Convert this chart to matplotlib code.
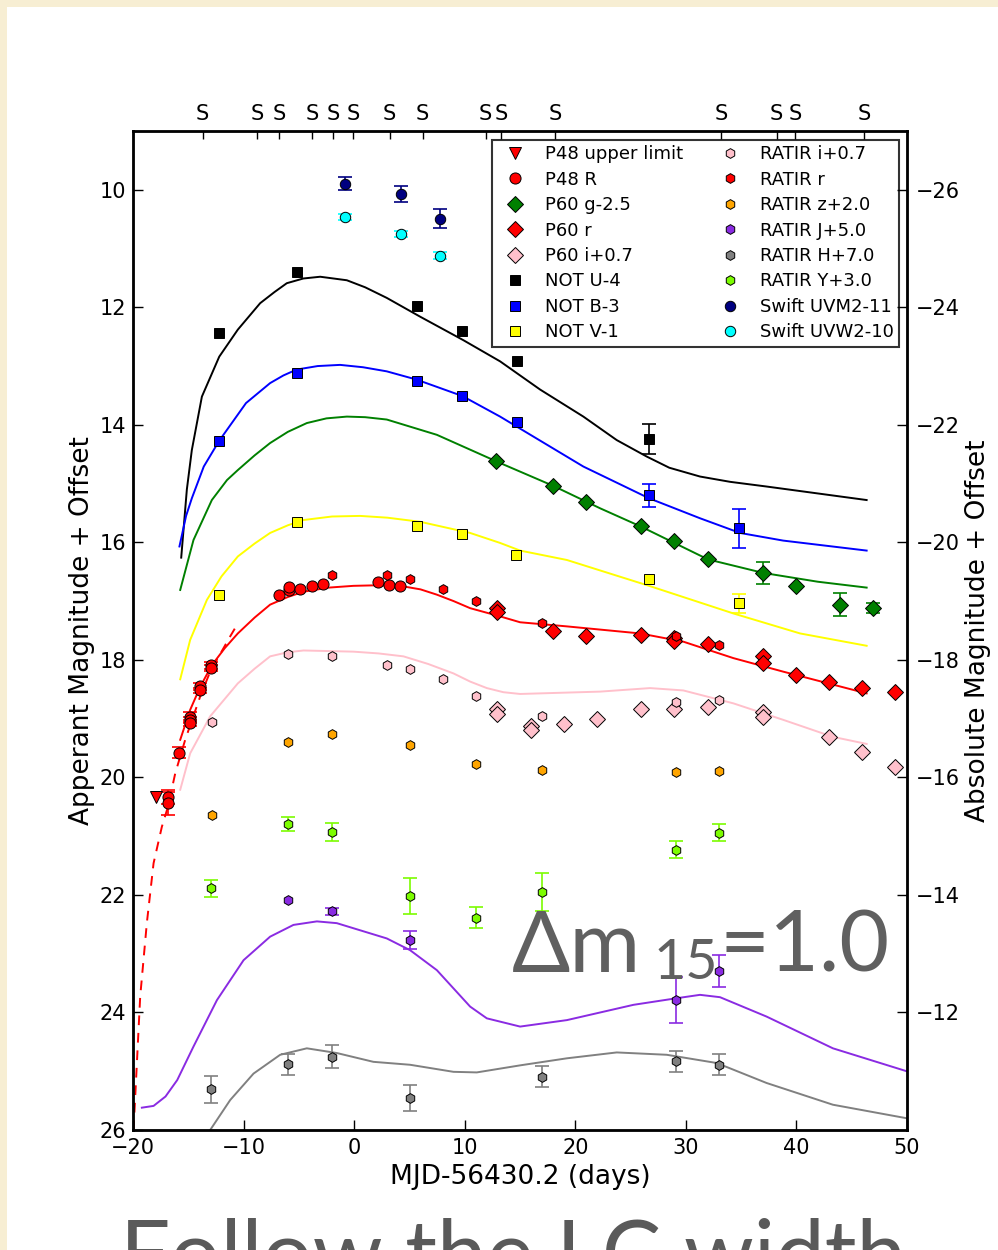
import matplotlib
matplotlib.use("Agg")
import matplotlib.pyplot as plt
from matplotlib.patches import Rectangle

# spectral epochs (top axis "S" marks)
spec_days = [-13.7, -8.8, -6.8, -3.8, -1.9, -0.1, 3.2, 6.2, 11.9, 13.3, 18.2, 33.2, 38.2, 39.9, 46.1]

# photometry (days, mag, err); err 0 = error bar hidden behind the marker
p48_lim_t = [-17.93]
p48_lim_m = [20.34]

p48_t = [-16.84, -16.84, -15.85, -14.83, -14.83, -14.83, -13.92, -13.92, -12.93, -12.93,
         -6.84, -5.88, -5.88, -4.88, -3.83, -2.83, 2.14, 3.19, 4.19]
p48_m = [20.34, 20.44, 19.58, 18.97, 19.02, 19.07, 18.45, 18.52, 18.09, 18.14,
         16.89, 16.81, 16.76, 16.80, 16.75, 16.71, 16.68, 16.72, 16.74]
p48_e = [0.12, 0.20, 0.09, 0.08, 0.05, 0.05, 0.06, 0.05, 0.06, 0.05,
         0, 0, 0, 0, 0, 0, 0, 0, 0]

p60g_t = [12.84, 18.02, 21.0, 25.92, 28.9, 32.0, 37.0, 39.94, 43.94, 46.95]
p60g_m = [14.62, 15.04, 15.31, 15.73, 15.98, 16.29, 16.52, 16.74, 17.06, 17.12]
p60g_e = [0, 0, 0, 0, 0, 0, 0.19, 0, 0.19, 0.09]

p60r_t = [12.9, 12.9, 18.02, 21.0, 25.92, 28.9, 28.9, 32.0, 37.0, 37.0, 39.94, 42.95, 45.93, 48.95]
p60r_m = [17.12, 17.18, 17.50, 17.59, 17.57, 17.62, 17.68, 17.73, 17.93, 18.06, 18.26, 18.37, 18.47, 18.55]

p60i_t = [12.9, 12.9, 15.97, 15.97, 18.99, 22.0, 25.92, 28.9, 32.0, 37.0, 37.0, 42.95, 45.93, 48.95]
p60i_m = [18.84, 18.92, 19.13, 19.20, 19.09, 19.01, 18.84, 18.84, 18.81, 18.88, 18.97, 19.32, 19.57, 19.83]

notU_t = [-12.2, -5.21, 5.64, 9.79, 14.71, 26.67]
notU_m = [12.43, 11.40, 11.97, 12.40, 12.92, 14.24]
notU_e = [0, 0, 0, 0, 0, 0.25]

notB_t = [-12.2, -5.21, 5.64, 9.79, 14.71, 26.67, 34.84]
notB_m = [14.27, 13.11, 13.25, 13.51, 13.96, 15.20, 15.76]
notB_e = [0, 0, 0, 0, 0, 0.19, 0.33]

notV_t = [-12.2, -5.21, 5.64, 9.79, 14.62, 26.67, 34.84]
notV_m = [16.89, 15.66, 15.73, 15.86, 16.22, 16.63, 17.04]
notV_e = [0, 0, 0, 0, 0, 0, 0.16]

ri_t = [-12.87, -5.94, -1.96, 2.98, 5.06, 8.07, 11.06, 17.03, 29.08, 33.0]
ri_m = [19.06, 17.90, 17.93, 18.09, 18.15, 18.33, 18.62, 18.96, 18.72, 18.68]

rr_t = [-1.96, 2.98, 5.06, 8.07, 11.06, 17.03, 29.08, 33.0]
rr_m = [16.55, 16.55, 16.63, 16.79, 17.00, 17.37, 17.59, 17.74]

rz_t = [-12.87, -5.94, -1.96, 5.06, 11.06, 17.03, 29.08, 33.0]
rz_m = [20.64, 19.39, 19.26, 19.45, 19.78, 19.87, 19.90, 19.89]

rJ_t = [-5.94, -1.96, 5.06, 29.08, 33.0]
rJ_m = [22.09, 22.28, 22.77, 23.79, 23.30]
rJ_e = [0, 0.06, 0.15, 0.39, 0.27]

rH_t = [-12.93, -5.94, -1.96, 5.06, 17.03, 29.08, 33.0]
rH_m = [25.31, 24.88, 24.75, 25.46, 25.09, 24.83, 24.89]
rH_e = [0.23, 0.18, 0.19, 0.22, 0.18, 0.18, 0.18]

rY_t = [-12.93, -5.94, -1.96, 5.06, 11.06, 17.03, 29.08, 33.0]
rY_m = [21.89, 20.80, 20.93, 22.02, 22.39, 21.95, 21.23, 20.94]
rY_e = [0.14, 0.12, 0.15, 0.30, 0.18, 0.32, 0.14, 0.15]

uvm2_t = [-0.81, 4.25, 7.72]
uvm2_m = [9.90, 10.07, 10.49]
uvm2_e = [0.11, 0.13, 0.16]

uvw2_t = [-0.81, 4.25, 7.72]
uvw2_m = [10.47, 10.76, 11.12]
uvw2_e = [0.05, 0.05, 0.06]

# template curves
U_t = [-15.64, -15.13, -14.68, -13.77, -12.2, -10.52, -8.5, -7.2, -6.09, -4.6, -3.07, -0.66,
       1.0, 2.95, 5.97, 9.88, 13.2, 16.82, 20.73, 23.75, 26.46, 28.5, 31.28, 34.0, 37.3, 46.35]
U_m = [16.26, 15.1, 14.43, 13.52, 12.84, 12.38, 11.93, 11.74, 11.59, 11.51, 11.48, 11.54,
       11.66, 11.84, 12.16, 12.56, 12.92, 13.40, 13.86, 14.26, 14.54, 14.73, 14.88, 14.97, 15.05, 15.28]

B_t = [-15.8, -15.2, -14.68, -13.6, -12.2, -9.78, -7.6, -6.4, -5.21, -3.3, -1.27, 0.8, 2.95, 5.64, 9.79,
       13.2, 16.21, 20.73, 26.67, 31.28, 34.9, 38.8, 46.35]
B_m = [16.07, 15.55, 15.25, 14.71, 14.27, 13.63, 13.29, 13.16, 13.06, 13.00, 12.98, 13.02, 13.09, 13.23, 13.51,
       13.86, 14.20, 14.71, 15.25, 15.59, 15.84, 15.97, 16.14]

g_t = [-15.73, -14.53, -12.87, -11.5, -10.52, -9.0, -7.6, -6.0, -4.28, -2.5, -0.66, 1.0, 2.95, 7.48,
       13.2, 18.02, 22.24, 25.92, 32.0, 37.0, 41.93, 46.35]
g_m = [16.81, 15.96, 15.28, 14.94, 14.77, 14.52, 14.31, 14.12, 13.97, 13.89, 13.86, 13.87, 13.91, 14.17,
       14.65, 15.04, 15.42, 15.73, 16.29, 16.52, 16.67, 16.77]

V_t = [-15.73, -14.83, -13.32, -12.0, -10.52, -9.0, -7.6, -6.0, -4.58, -2.0, 0.54, 3.0, 5.97, 10.49,
       13.2, 15.01, 19.24, 26.67, 34.3, 40.33, 46.35]
V_m = [18.33, 17.66, 16.98, 16.58, 16.24, 16.02, 15.84, 15.71, 15.62, 15.56, 15.55, 15.58, 15.65, 15.84,
       16.01, 16.14, 16.30, 16.74, 17.21, 17.55, 17.76]

r_t = [-15.73, -14.83, -13.9, -12.87, -11.7, -10.52, -9.0, -7.6, -6.0, -4.58, -2.3, -0.06, 2.2,
       4.46, 6.0, 7.48, 9.0, 10.49, 13.2, 15.01, 19.24, 25.86, 29.77, 34.3, 38.8, 46.35]
r_m = [19.36, 18.85, 18.45, 18.09, 17.80, 17.55, 17.28, 17.06, 16.93, 16.84, 16.77, 16.74, 16.73,
       16.75, 16.80, 16.89, 17.00, 17.12, 17.26, 17.36, 17.43, 17.55, 17.69, 17.97, 18.20, 18.57]

rise_t = [-19.95, -19.35, -18.75, -18.14, -17.39, -16.84, -16.18, -15.28, -13.92, -13.02, -11.21, -10.58]
rise_m = [26.0, 23.73, 22.48, 21.46, 20.84, 20.50, 19.93, 19.36, 18.62, 18.20, 17.60, 17.40]

i_t = [-15.73, -14.83, -13.02, -10.52, -9.0, -7.6, -6.0, -4.58, -0.06, 2.2, 4.46, 6.7, 8.98,
       10.5, 12.0, 13.5, 15.01, 22.24, 26.76, 29.77, 34.3, 38.8, 43.3, 46.35]
i_m = [20.21, 19.59, 18.96, 18.40, 18.15, 17.94, 17.87, 17.84, 17.86, 17.89, 17.94, 18.07, 18.23,
       18.37, 18.48, 18.55, 18.58, 18.54, 18.48, 18.52, 18.74, 19.02, 19.31, 19.43]

J_t = [-19.2, -18.14, -17.06, -16.0, -14.53, -12.41, -10.0, -7.6, -5.49, -3.37, -1.57, 2.95,
       5.06, 7.48, 10.49, 12.0, 15.01, 19.24, 25.26, 29.08, 31.28, 33.09, 37.3, 43.3, 49.97]
J_m = [25.62, 25.59, 25.43, 25.15, 24.58, 23.79, 23.11, 22.71, 22.51, 22.45, 22.48, 22.74,
       22.94, 23.28, 23.90, 24.10, 24.24, 24.13, 23.87, 23.76, 23.70, 23.74, 24.07, 24.61, 25.0]

H_t = [-13.02, -11.21, -9.1, -6.69, -4.28, -1.57, 1.74, 5.06, 8.98, 11.09, 15.01, 19.24,
       23.75, 28.27, 32.79, 37.3, 43.3, 49.97]
H_m = [26.0, 25.49, 25.04, 24.72, 24.61, 24.69, 24.84, 24.89, 25.01, 25.02, 24.90, 24.78,
       24.68, 24.72, 24.86, 25.20, 25.57, 25.80]

plt.rcParams['font.family'] = 'DejaVu Sans'

fig = plt.figure(figsize=(9.98, 12.5), dpi=100, facecolor='#f7eed3')
# white slide panel
fig.patches.append(Rectangle((7 / 998, 0), 1, 1 - 7 / 1250, transform=fig.transFigure,
                             facecolor='white', edgecolor='none', zorder=-5))

ax = fig.add_axes([0.13327, 0.096, 0.77555, 0.7992])
ax.patch.set_alpha(0)

# template curves
ax.plot(U_t, U_m, color='black', lw=1.4, zorder=1)
ax.plot(B_t, B_m, color='blue', lw=1.4, zorder=1)
ax.plot(g_t, g_m, color='green', lw=1.4, zorder=1)
ax.plot(V_t, V_m, color='yellow', lw=1.4, zorder=1)
ax.plot(r_t, r_m, color='red', lw=1.4, zorder=1)
ax.plot(rise_t, rise_m, color='red', lw=1.4, ls=(0, (5, 4)), zorder=1)
ax.plot(i_t, i_m, color='pink', lw=1.4, zorder=1)
ax.plot(J_t, J_m, color='blueviolet', lw=1.4, zorder=1)
ax.plot(H_t, H_m, color='gray', lw=1.4, zorder=1)

handles = {}


def series(t, m, marker, color, label, err=None, ms=8):
    if err is not None:
        pts = [(a, b, e) for a, b, e in zip(t, m, err) if e > 0]
        if pts:
            et, em, ee = zip(*pts)
            ax.errorbar(et, em, yerr=ee, fmt='none', ecolor=color, elinewidth=1.2,
                        capsize=5, capthick=1.2, zorder=2)
    h, = ax.plot(t, m, ls='none', marker=marker, color=color, mec='black', mew=0.7,
                 ms=ms, label=label, zorder=3)
    handles[label] = h


series(p48_lim_t, p48_lim_m, 'v', 'red', 'P48 upper limit', ms=8.5)
series(p48_t, p48_m, 'o', 'red', 'P48 R', err=p48_e, ms=8)
series(p60g_t, p60g_m, 'D', 'green', 'P60 g-2.5', err=p60g_e, ms=8)
series(p60r_t, p60r_m, 'D', 'red', 'P60 r', ms=8)
series(p60i_t, p60i_m, 'D', 'pink', 'P60 i+0.7', ms=8)
series(notU_t, notU_m, 's', 'black', 'NOT U-4', err=notU_e, ms=7.5)
series(notB_t, notB_m, 's', 'blue', 'NOT B-3', err=notB_e, ms=7.5)
series(notV_t, notV_m, 's', 'yellow', 'NOT V-1', err=notV_e, ms=7.5)
series(ri_t, ri_m, 'h', 'pink', 'RATIR i+0.7', ms=7)
series(rr_t, rr_m, 'h', 'red', 'RATIR r', ms=7)
series(rz_t, rz_m, 'h', 'orange', 'RATIR z+2.0', ms=7)
series(rJ_t, rJ_m, 'h', 'blueviolet', 'RATIR J+5.0', err=rJ_e, ms=7)
series(rH_t, rH_m, 'h', 'gray', 'RATIR H+7.0', err=rH_e, ms=7)
series(rY_t, rY_m, 'h', 'lawngreen', 'RATIR Y+3.0', err=rY_e, ms=7)
series(uvm2_t, uvm2_m, 'o', 'navy', 'Swift UVM2-11', err=uvm2_e, ms=7.5)
series(uvw2_t, uvw2_m, 'o', 'cyan', 'Swift UVW2-10', err=uvw2_e, ms=7.5)

ax.set_xlim(-20, 50)
ax.set_ylim(26, 9)
ax.set_yticks(range(10, 27, 2))
ax.set_xticks(range(-20, 51, 10))
ax.tick_params(axis='both', direction='in', length=7, width=1, labelsize=15)
ax.tick_params(axis='y', pad=5, left=True, right=False)
ax.tick_params(axis='x', pad=6, top=False)
ax.set_xlabel('MJD-56430.2 (days)', fontsize=19, labelpad=4)
ax.set_ylabel('Apperant Magnitude + Offset', fontsize=19, labelpad=3)
for s in ax.spines.values():
    s.set_linewidth(2)

leg = ax.legend([handles[k] for k in handles], list(handles), ncol=2, numpoints=1,
                loc='upper right', bbox_to_anchor=(0.9897, 0.991), borderaxespad=0,
                fontsize=13, frameon=True, fancybox=False, handlelength=2.0,
                handletextpad=0.65, labelspacing=0.41, columnspacing=1.6, borderpad=0.3)
leg.get_frame().set_edgecolor('black')
leg.get_frame().set_linewidth(1.5)

# absolute magnitude axis
ax2 = ax.twinx()
ax2.set_ylim(26 - 36, 9 - 36)
ax2.set_yticks(range(-26, -11, 2))
ax2.tick_params(axis='y', direction='in', length=7, width=1, labelsize=15, pad=6)
ax2.set_ylabel('Absolute Magnitude + Offset', fontsize=19, labelpad=4)

# spectra epochs
ax3 = ax.twiny()
ax3.set_xlim(-20, 50)
ax3.set_xticks(spec_days)
ax3.set_xticklabels(['S'] * len(spec_days))
ax3.tick_params(axis='x', direction='in', length=6, width=1, labelsize=15, pad=5)

# slide overlay text, pieces placed one after another
gray = '#606060'
font = ['Lato', 'DejaVu Sans']
W, H = fig.bbox.width, fig.bbox.height
renderer = fig.canvas.get_renderer()

t1 = fig.text(512 / W, 1 - 972 / H, '\u0394m', fontsize=62, color=gray,
              family=font, va='baseline', ha='left')
x_end = t1.get_window_extent(renderer).x1
t2 = fig.text((x_end + 12) / W, 1 - 979 / H, '15', fontsize=40, color=gray,
              family=font, va='baseline', ha='left')
x_end = t2.get_window_extent(renderer).x1
fig.text((x_end + 2) / W, 1 - 972 / H, '=1.0', fontsize=62, color=gray,
         family=font, va='baseline', ha='left')

fig.text(513 / W, 1 - 1284 / H, 'Follow the LC width', fontsize=64, color='#5a5a5a',
         family=font, va='baseline', ha='center')

fig.savefig('out.png', dpi=100, facecolor=fig.get_facecolor())
